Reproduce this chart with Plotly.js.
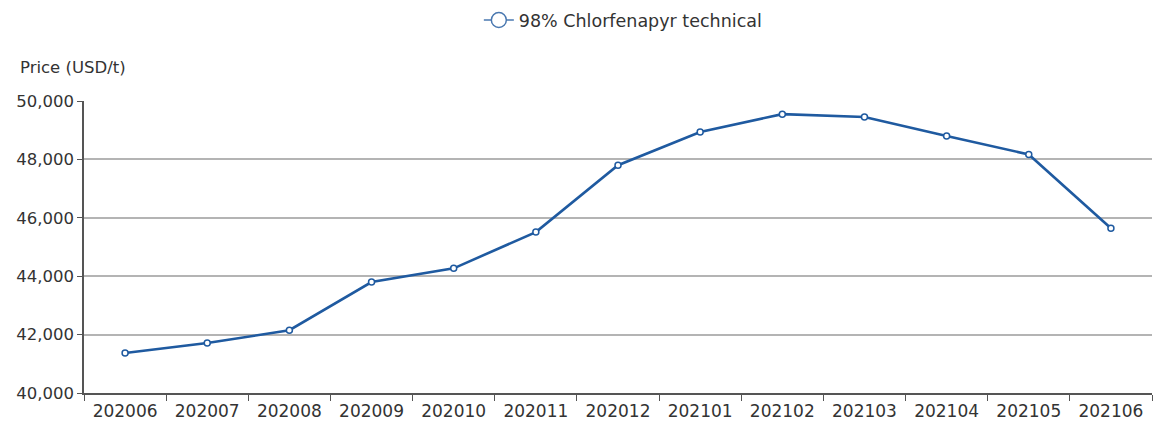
<!DOCTYPE html>
<html>
<head>
<meta charset="utf-8">
<script src="https://cdn.plot.ly/plotly-3.0.1.min.js"></script>
<style>html,body{margin:0;padding:0;background:#fff;}#chart{width:1154px;height:426px;}</style>
</head>
<body>
<div id="chart"></div>
<script>
const months = ["202006","202007","202008","202009","202010","202011","202012","202101","202102","202103","202104","202105","202106"];
const prices = [41370, 41710, 42150, 43800, 44270, 45510, 47800, 48940, 49550, 49450, 48800, 48170, 45640];
const seriesName = "98% Chlorfenapyr technical";
const yTitle = "Price (USD/t)";

const font = "'DejaVu Sans', 'Noto Sans', sans-serif";
Plotly.newPlot('chart', [{
  x: months, y: prices, name: seriesName, type: 'scatter', mode: 'lines+markers', showlegend: false,
  line: {color: '#1f5aa0', width: 2.6},
  marker: {symbol: 'circle', size: 6, color: '#ffffff', line: {color: '#1f5aa0', width: 1.5}}
}, {
  x: [null], y: [null], name: seriesName, type: 'scatter', mode: 'lines+markers', showlegend: true,
  line: {color: '#4a78b0', width: 1.5},
  marker: {symbol: 'circle', size: 15, color: '#ffffff', line: {color: '#4a78b0', width: 1.5}}
}], {
  width: 1154, height: 426,
  margin: {l: 84, r: 2, t: 101, b: 33},
  paper_bgcolor: '#fff', plot_bgcolor: '#fff',
  font: {family: font, color: '#333', size: 17},
  showlegend: true,
  legend: {orientation: 'h', x: 0.505, xanchor: 'center', y: 1.277, yanchor: 'middle', font: {size: 17.5, color: '#333'}},
  xaxis: {type: 'category', range: [-0.5, 12.5], showgrid: false, showline: true, linecolor: '#555', linewidth: 1.5,
          ticks: 'outside', tickson: 'boundaries', ticklen: 6, tickcolor: '#555', tickfont: {size: 17}, ticklabelstandoff: 2},
  yaxis: {range: [40000, 50000], dtick: 2000, tickformat: ',d', showgrid: true, gridcolor: '#b4b4b4', gridwidth: 1.5,
          showline: true, linecolor: '#555', linewidth: 1.5, ticks: 'outside', ticklen: 5, tickcolor: '#555',
          zeroline: false, tickfont: {size: 16.5}},
  annotations: [{text: yTitle, xref: 'paper', yref: 'paper', x: -0.062, y: 1.115, xanchor: 'left', yanchor: 'middle',
                 showarrow: false, font: {size: 16.5, color: '#333'}}]
}, {displayModeBar: false});
</script>
</body>
</html>
